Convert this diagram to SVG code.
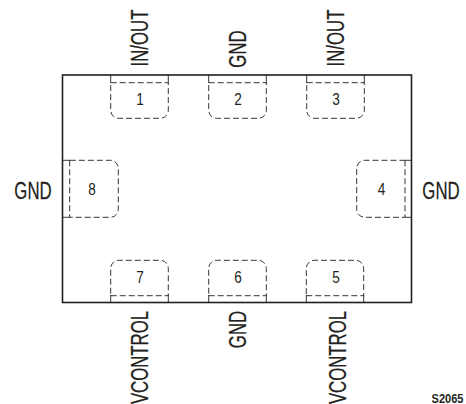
<svg xmlns="http://www.w3.org/2000/svg" width="466" height="404" viewBox="0 0 466 404">
<style>
text{font-family:"Liberation Sans",Arial,sans-serif;fill:#231f20}
.l{font-size:23px;text-anchor:middle;stroke:#231f20;stroke-width:.25}
.n{font-size:17px;text-anchor:middle}
.b{fill:none;stroke:#231f20;stroke-width:1.6}
.d{fill:none;stroke:#231f20;stroke-width:.9;stroke-dasharray:6 3}
.t{fill:none;stroke:#231f20;stroke-width:.9}
</style>
<g id="body"><rect class="b" x="62.5" y="75" width="349" height="227.5"/></g>
<g id="connectors"></g>
<g id="pin1"><path class="t" d="M110.7 75V83M168.3 75V83"/><path class="d" d="M110.7 82.7H168.3V110.3a8 8 0 0 1-8 8H118.7a8 8 0 0 1-8-8Z"/><text class="n" transform="translate(140 105) scale(.8 1)">1</text></g>
<g id="pin2"><path class="t" d="M208.7 75V83M266.3 75V83"/><path class="d" d="M208.7 82.7H266.3V110.3a8 8 0 0 1-8 8H216.7a8 8 0 0 1-8-8Z"/><text class="n" transform="translate(238 105) scale(.8 1)">2</text></g>
<g id="pin3"><path class="t" d="M306.7 75V83M364.3 75V83"/><path class="d" d="M306.7 82.7H364.3V110.3a8 8 0 0 1-8 8H314.7a8 8 0 0 1-8-8Z"/><text class="n" transform="translate(336 105) scale(.8 1)">3</text></g>
<g id="pin4"><path class="t" d="M405 160.3H411.5M405 217.3H411.5"/><path class="d" d="M405 160.3V217.3H364.7a8 8 0 0 1-8-8V168.3a8 8 0 0 1 8-8Z"/><text class="n" transform="translate(381.5 195) scale(.8 1)">4</text></g>
<g id="pin5"><path class="t" d="M306.3 295V302.5M363.7 295V302.5"/><path class="d" d="M306.3 295.7H363.7V268.3a8 8 0 0 0-8-8H314.3a8 8 0 0 0-8 8Z"/><text class="n" transform="translate(336 282.500) scale(.8 1)">5</text></g>
<g id="pin6"><path class="t" d="M208.7 295V302.5M266.3 295V302.5"/><path class="d" d="M208.7 295.7H266.3V268.3a8 8 0 0 0-8-8H216.7a8 8 0 0 0-8 8Z"/><text class="n" transform="translate(238 282.500) scale(.8 1)">6</text></g>
<g id="pin7"><path class="t" d="M110.7 295V302.5M168.3 295V302.5"/><path class="d" d="M110.7 295.7H168.3V268.3a8 8 0 0 0-8-8H118.7a8 8 0 0 0-8 8Z"/><text class="n" transform="translate(140 282.500) scale(.8 1)">7</text></g>
<g id="pin8"><path class="t" d="M62.5 160.3H70M62.5 217.3H70"/><path class="d" d="M69.7 160.3V217.3H110.3a8 8 0 0 0 8-8V168.3a8 8 0 0 0-8-8Z"/><text class="n" transform="translate(92 195) scale(.8 1)">8</text></g>
<g id="labels">
<text class="l" transform="translate(147.500 38) rotate(-90) scale(.73 1)">IN/OUT</text>
<text class="l" transform="translate(246 49) rotate(-90) scale(.73 1)">GND</text>
<text class="l" transform="translate(344 38) rotate(-90) scale(.73 1)">IN/OUT</text>
<text class="l" transform="translate(33 198.500) scale(.73 1)">GND</text>
<text class="l" transform="translate(441 198.500) scale(.73 1)">GND</text>
<text class="l" transform="translate(147.500 357.500) rotate(-90) scale(.73 1)">VCONTROL</text>
<text class="l" transform="translate(246 329.500) rotate(-90) scale(.73 1)">GND</text>
<text class="l" transform="translate(345.500 357.500) rotate(-90) scale(.73 1)">VCONTROL</text>
<text transform="translate(463.500 403) scale(.92 1)" text-anchor="end" font-size="12" font-weight="bold">S2065</text>
</g>
</svg>
